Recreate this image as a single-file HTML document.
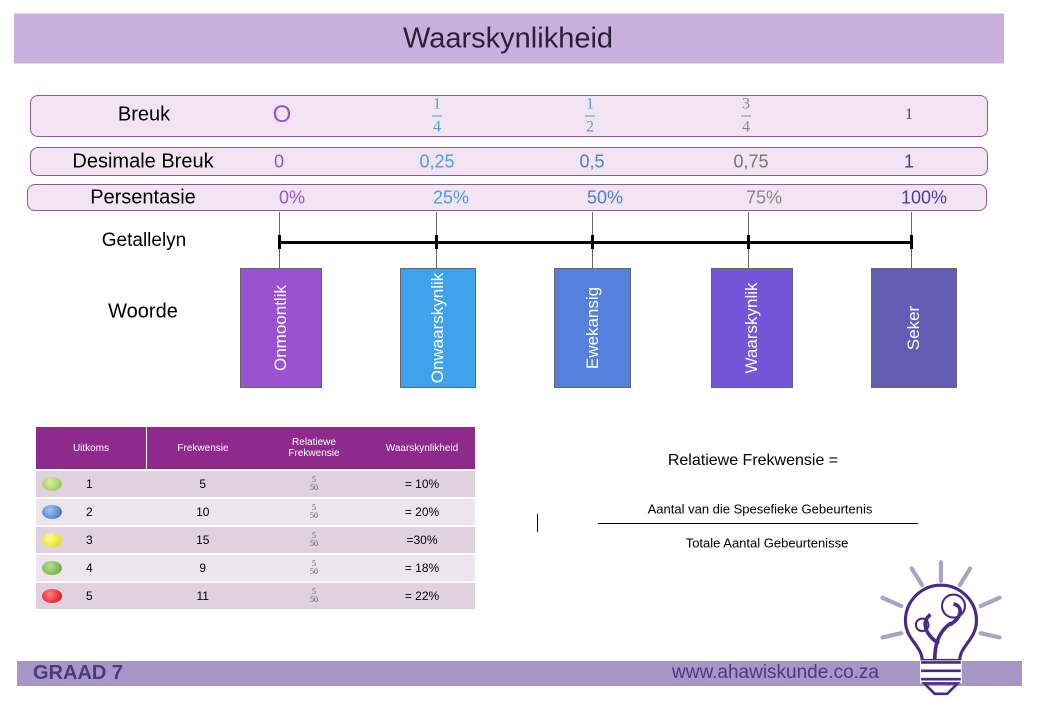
<!DOCTYPE html>
<html><head><meta charset="utf-8"><style>
body{margin:0;width:1044px;height:716px;background:#fff;position:relative;overflow:hidden;font-family:"Liberation Sans",sans-serif}
.a{position:absolute}
.row{position:absolute;background:#f3e4f4;border:1.5px solid #8d5a96;border-radius:8px;box-sizing:border-box}
.t{position:absolute;white-space:nowrap;transform:translate(-50%,-50%)}
.frac{position:absolute;transform:translate(-50%,-50%);font-family:"Liberation Serif",serif;font-size:16px;color:#4a9ee0;text-align:center;line-height:16px}
.frac i{display:block;width:10px;height:1px;background:currentColor;margin:3px auto;font-style:normal}
.box{position:absolute;top:268px;height:120px;border:1px solid #666;box-sizing:border-box}
.box span{position:absolute;left:50%;top:50%;transform:translate(-50%,-50%) rotate(-90deg);color:#fff;font-size:17px;white-space:nowrap}
.tick{position:absolute;width:3px;height:14px;background:#000;top:235px}
.hang{position:absolute;width:1px;background:#666;top:212px;height:58px}
table{position:absolute;left:36px;top:427px;width:439px;border-collapse:collapse;font-size:12px}
td{text-align:center;height:26px;padding:0;border-bottom:2px solid #fff}
.hd td{background:#8d2a8c;color:#fff;height:42px;font-size:10px}
.r1 td{background:#e0d1e0}.r2 td{background:#ede4ee}
.dot{display:inline-block;width:20px;height:14px;border-radius:50%;vertical-align:middle;margin-right:24px}
.sf{font-family:"Liberation Serif",serif;font-size:8px;line-height:8px;display:inline-block;color:#555}
</style></head><body>
<div class="a" style="left:14px;top:13px;width:990px;height:49px;background:#c8b0dc;border-top:1px solid #e6d8ef;border-bottom:1px solid #e6d8ef"></div>
<div class="t" style="left:508px;top:39px;font-size:29px;color:#2a1e3a">Waarskynlikheid</div>

<div class="row" style="left:30px;top:95px;width:958px;height:42px"></div>
<div class="row" style="left:30px;top:147px;width:958px;height:29px"></div>
<div class="row" style="left:27px;top:184px;width:960px;height:27px"></div>

<div class="t" style="left:144px;top:115px;font-size:20px">Breuk</div>
<div class="t" style="left:282px;top:115px;font-size:24px;color:#9a52d0">O</div>
<div class="frac" style="left:437px;top:116px">1<i></i>4</div>
<div class="frac" style="left:590px;top:116px">1<i></i>2</div>
<div class="frac" style="left:746px;top:116px;color:#888">3<i></i>4</div>
<div class="t" style="left:909px;top:115px;font-size:16px;color:#4a3d9a;font-family:'Liberation Serif',serif">1</div>

<div class="t" style="left:143px;top:162px;font-size:20px">Desimale Breuk</div>
<div class="t" style="left:279px;top:162px;font-size:18px;color:#9a52d0">0</div>
<div class="t" style="left:437px;top:162px;font-size:18px;color:#4a9ee0">0,25</div>
<div class="t" style="left:592px;top:162px;font-size:18px;color:#4a7ed0">0,5</div>
<div class="t" style="left:751px;top:162px;font-size:18px;color:#777">0,75</div>
<div class="t" style="left:909px;top:162px;font-size:18px;color:#4a3d9a">1</div>

<div class="t" style="left:143px;top:198px;font-size:20px">Persentasie</div>
<div class="t" style="left:292px;top:198px;font-size:18px;color:#9a52d0">0%</div>
<div class="t" style="left:451px;top:198px;font-size:18px;color:#4a9ee0">25%</div>
<div class="t" style="left:605px;top:198px;font-size:18px;color:#4a7ed0">50%</div>
<div class="t" style="left:764px;top:198px;font-size:18px;color:#888">75%</div>
<div class="t" style="left:924px;top:198px;font-size:18px;color:#4a3d9a">100%</div>

<div class="t" style="left:144px;top:241px;font-size:19px">Getallelyn</div>
<div class="a" style="left:279px;top:241px;width:632px;height:3px;background:#000"></div>
<div class="hang" style="left:279px"></div><div class="hang" style="left:436px"></div><div class="hang" style="left:592px"></div><div class="hang" style="left:748px"></div><div class="hang" style="left:911px"></div>
<div class="tick" style="left:278px"></div><div class="tick" style="left:435px"></div><div class="tick" style="left:591px"></div><div class="tick" style="left:747px"></div><div class="tick" style="left:910px"></div>

<div class="t" style="left:143px;top:312px;font-size:20px">Woorde</div>
<div class="box" style="left:240px;width:82px;background:#9a52d0"><span>Onmoontlik</span></div>
<div class="box" style="left:400px;width:76px;background:#3fa3ec"><span>Onwaarskynlik</span></div>
<div class="box" style="left:554px;width:77px;background:#5580dc"><span>Ewekansig</span></div>
<div class="box" style="left:711px;width:82px;background:#7455d8"><span>Waarskynlik</span></div>
<div class="box" style="left:871px;width:86px;background:#655cb5"><span>Seker</span></div>

<table>
<tr class="hd"><td style="width:110px;border-right:1px solid #fff">Uitkoms</td><td style="width:112px">Frekwensie</td><td style="width:110px">Relatiewe<br>Frekwensie</td><td>Waarskynlikheid</td></tr>
<tr class="r1"><td style="text-align:left;padding-left:6px"><span class="dot" style="background:radial-gradient(circle at 40% 35%,#d8f0a0,#88c040)"></span>1</td><td>5</td><td><span class="sf">5<br>50</span></td><td>= 10%</td></tr>
<tr class="r2"><td style="text-align:left;padding-left:6px"><span class="dot" style="background:radial-gradient(circle at 40% 35%,#a0c8f0,#2e64b8)"></span>2</td><td>10</td><td><span class="sf">5<br>50</span></td><td>= 20%</td></tr>
<tr class="r1"><td style="text-align:left;padding-left:6px"><span class="dot" style="background:radial-gradient(circle at 40% 35%,#ffff90,#e0d000)"></span>3</td><td>15</td><td><span class="sf">5<br>50</span></td><td>=30%</td></tr>
<tr class="r2"><td style="text-align:left;padding-left:6px"><span class="dot" style="background:radial-gradient(circle at 40% 35%,#b8e090,#5a9e3a)"></span>4</td><td>9</td><td><span class="sf">5<br>50</span></td><td>= 18%</td></tr>
<tr class="r1"><td style="text-align:left;padding-left:6px"><span class="dot" style="background:radial-gradient(circle at 40% 35%,#ff8080,#d80000)"></span>5</td><td>11</td><td><span class="sf">5<br>50</span></td><td>= 22%</td></tr>
</table>

<div class="t" style="left:753px;top:461px;font-size:16px">Relatiewe Frekwensie =</div>
<div class="t" style="left:760px;top:509px;font-size:13px">Aantal van die Spesefieke Gebeurtenis</div>
<div class="a" style="left:598px;top:523px;width:320px;height:1px;background:#000"></div>
<div class="t" style="left:767px;top:543px;font-size:13px">Totale Aantal Gebeurtenisse</div>
<div class="a" style="left:537px;top:514px;width:1px;height:18px;background:#000"></div>

<div class="a" style="left:17px;top:661px;width:1005px;height:25px;background:#a796c6"></div>
<div class="a" style="left:33px;top:662px;font-size:20px;font-weight:bold;color:#4a3a7a">GRAAD 7</div>
<div class="a" style="left:672px;top:662px;font-size:19px;color:#4a3a7a">www.ahawiskunde.co.za</div>

<svg class="a" style="left:874px;top:558px" width="136" height="140" viewBox="0 0 130 134">
<g stroke="#aaa3c8" stroke-width="4" stroke-linecap="round">
<line x1="64" y1="4" x2="64" y2="22"/><line x1="36" y1="10" x2="46" y2="26"/><line x1="92" y1="10" x2="82" y2="26"/>
<line x1="8" y1="38" x2="26" y2="46"/><line x1="120" y1="38" x2="102" y2="46"/><line x1="8" y1="76" x2="26" y2="72"/><line x1="120" y1="76" x2="102" y2="72"/>
</g>
<path d="M46 98 C46 84 30 78 30 60 A34 34 0 1 1 98 60 C98 78 82 84 82 98 Z" fill="#fff" stroke="#4a2a86" stroke-width="3"/>
<rect x="44" y="98" width="40" height="22" fill="#fff"/>
<g stroke="#4a2a86" stroke-width="2.5" fill="none"><line x1="45" y1="100" x2="83" y2="100"/><line x1="45" y1="108" x2="83" y2="108"/><line x1="45" y1="116" x2="83" y2="116"/><path d="M48 120 L80 120 L70 130 L58 130 Z"/></g>
<path d="M58 98 C58 82 62 70 74 62 M62 82 C50 74 44 62 54 54 M72 64 C84 58 86 46 76 44" stroke="#4a2a86" stroke-width="3.5" fill="none"/>
<circle cx="76" cy="46" r="11" fill="none" stroke="#4a2a86" stroke-width="2"/>
<circle cx="46" cy="64" r="6" fill="none" stroke="#4a2a86" stroke-width="2"/>
</svg>
</body></html>
